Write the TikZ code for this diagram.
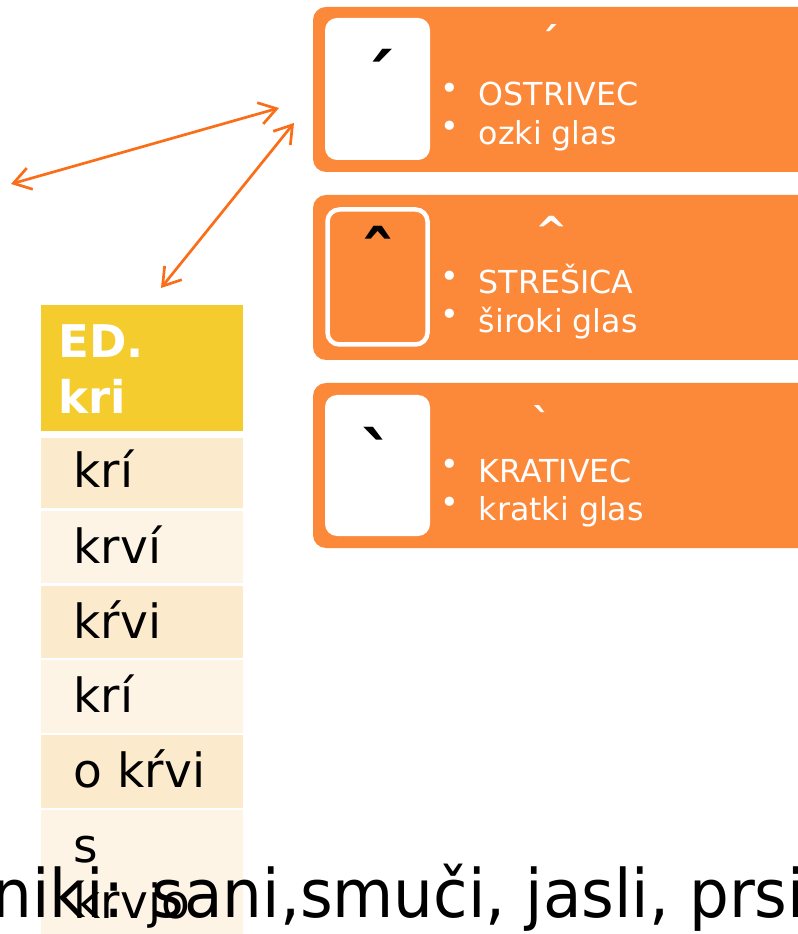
\documentclass[tikz,border=0pt]{standalone}
\usepackage{fontspec}
\setmainfont{DejaVu Sans}
\newfontfamily\plainmarks{DejaVu Sans}
\newfontfamily\narrowfont[FakeStretch=0.94]{DejaVu Sans}
\usetikzlibrary{arrows.meta}
\definecolor{panelorange}{RGB}{252,137,58}
\definecolor{arroworange}{RGB}{250,110,25}
\definecolor{headyellow}{RGB}{244,204,46}
\definecolor{rowdark}{RGB}{251,234,204}
\definecolor{rowlight}{RGB}{253,244,229}

\begin{document}
\begin{tikzpicture}[x=0.01cm, y=-0.01cm, % one unit = one pixel, y downwards
	panel/.style={fill=panelorange, rounded corners=0.13cm},
	tile/.style={rounded corners=0.12cm},
	accentmark/.style={anchor=base, inner sep=0pt, font=\plainmarks\bfseries\fontsize{20}{24}\selectfont},
	headmark/.style={anchor=base, inner sep=0pt, text=white, font=\plainmarks\bfseries\fontsize{11}{13}\selectfont},
	point/.style={anchor=base west, inner sep=0pt, text=white, font=\fontsize{9}{11}\selectfont},
	bulletdot/.style={inner sep=0pt, text=white, font=\fontsize{9}{11}\selectfont},
	cell/.style={anchor=base west, inner sep=0pt, font=\fontsize{13.4}{16}\selectfont},
	head/.style={anchor=base west, inner sep=0pt, text=white, font=\bfseries\fontsize{12.8}{15}\selectfont},
	link/.style={draw=arroworange, line width=0.027cm,
		{Straight Barb[length=0.17cm,width=0.22cm]}-{Straight Barb[length=0.17cm,width=0.22cm]}}]

	\useasboundingbox (0,0) rectangle (797,934);

	% three orange panels
	\fill[panel] (313,7) rectangle (840,172);
	\fill[white, tile] (325,18) rectangle (430,160);
	\fill[panel] (313,195) rectangle (840,360);
	\draw[white, line width=0.045cm, tile] (327.5,209.5) rectangle (427.5,344.5);
	\fill[panel] (313,383) rectangle (840,548);
	\fill[white, tile] (325,395) rectangle (430,536);

	\node[accentmark] (acute) at (378,106) {´};
	\node[headmark] (acutehead) at (549,56) {´};
	\node[bulletdot] (b1) at (450,91) {•};
	\node[point] (ostrivec) at (478,106) {OSTRIVEC};
	\node[bulletdot] (b2) at (450,129) {•};
	\node[point] (ozki) at (478,145) {ozki glas};

	\node[accentmark] (circ) at (378,283) {ˆ};
	\node[headmark] (circhead) at (552,245) {\^{}};
	\node[bulletdot] (b3) at (450,279) {•};
	\node[point] (stresica) at (478,294) {STREŠICA};
	\node[bulletdot] (b4) at (450,317) {•};
	\node[point] (siroki) at (478,333) {široki glas};

	\node[accentmark] (grave) at (378,484) {`};
	\node[headmark] (gravehead) at (542,436) {`};
	\node[bulletdot] (b5) at (450,467) {•};
	\node[point] (krativec) at (478,482) {KRATIVEC};
	\node[bulletdot] (b6) at (450,505) {•};
	\node[point] (kratki) at (478,520) {kratki glas};

	% table
	\fill[headyellow] (41,305) rectangle (243,431);
	\fill[rowdark] (41,438) rectangle (243,508);
	\fill[rowlight] (41,511) rectangle (243,583);
	\fill[rowdark] (41,586) rectangle (243,658);
	\fill[rowlight] (41,660) rectangle (243,733);
	\fill[rowdark] (41,735) rectangle (243,808);
	\fill[rowlight] (41,810) rectangle (243,940);

	\node[head] (ed) at (58,358) {ED.};
	\node[head] (kri) at (58,413) {kri};
	\node[cell] (r1) at (73,488) {krí};
	\node[cell] (r2) at (73,563) {krví};
	\node[cell] (r3) at (73,638) {kŕvi};
	\node[cell] (r4) at (73,712) {krí};
	\node[cell] (r5) at (73,787) {o kŕvi};
	\node[cell] (r6) at (73,862) {s};
	\node[cell] (r6b) at (73,918) {krvjo};

	\node[anchor=base west, inner sep=0pt, font=\narrowfont\fontsize{19}{23}\selectfont] (examples) at (-8,917) {niki: sani,smuči, jasli, prsi};

	% arrows
	\coordinate (leftend) at (11,184);
	\coordinate (topend) at (279,108);
	\coordinate (tableend) at (161,288);
	\coordinate (panelend) at (294,123);
	\draw[link] (leftend) -- (topend);
	\draw[link] (tableend) -- (panelend);
\end{tikzpicture}
\end{document}
